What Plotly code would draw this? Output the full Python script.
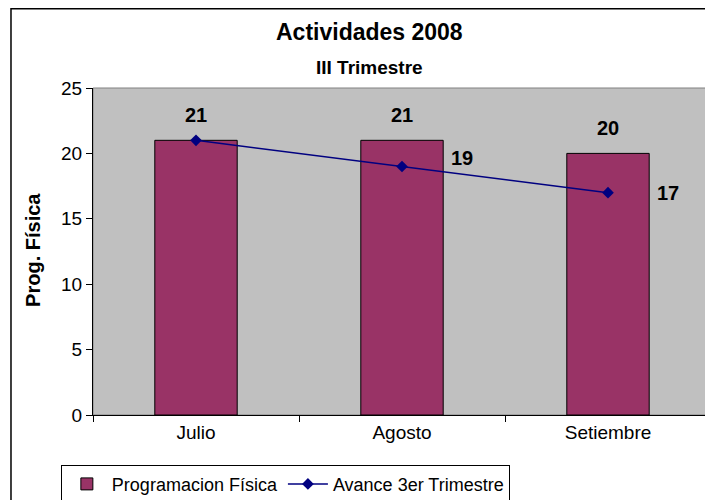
import plotly.graph_objects as go

categories = ["Julio", "Agosto", "Setiembre"]
programacion = [21, 21, 20]
avance = [21, 19, 17]
avance_labels = ["", "19", "17"]
y_ticks = [0, 5, 10, 15, 20, 25]

FONT = "Liberation Sans, Arial, sans-serif"

fig = go.Figure()
fig.add_trace(go.Bar(
    x=categories, y=programacion, name="Programacion Física",
    marker=dict(color="#993366", line=dict(color="black", width=1)),
    width=0.40,
))
fig.add_trace(go.Scatter(
    x=categories, y=avance, name="Avance 3er Trimestre",
    mode="lines+markers",
    line=dict(color="#000080", width=1.5),
    marker=dict(symbol="diamond", size=9, color="#000080"),
))

annotations = []
for c, v in zip(categories, programacion):
    annotations.append(dict(x=c, y=v, xref="x", yref="y", text=f"<b>{v}</b>",
                            showarrow=False, yanchor="bottom", yshift=12,
                            font=dict(family=FONT, size=20, color="black")))
line_yshift = [0, 8, 0]
for c, v, t, ys in zip(categories, avance, avance_labels, line_yshift):
    if t:
        annotations.append(dict(x=c, y=v, xref="x", yref="y", text=f"<b>{t}</b>",
                                showarrow=False, xshift=60, yshift=ys,
                                xanchor="center", yanchor="middle",
                                font=dict(family=FONT, size=20, color="black")))

annotations += [
    dict(x=0.448, y=1.171, xref="paper", yref="paper", text="<b>Actividades 2008</b>",
         xanchor="center", yanchor="middle",
         showarrow=False, font=dict(family=FONT, size=23, color="black")),
    dict(x=0.448, y=1.064, xref="paper", yref="paper", text="<b>III Trimestre</b>",
         xanchor="center", yanchor="middle",
         showarrow=False, font=dict(family=FONT, size=19, color="black")),
    dict(x=-0.097, y=0.505, xref="paper", yref="paper", text="<b>Prog. Física</b>",
         xanchor="center", yanchor="middle",
         textangle=-90, showarrow=False, font=dict(family=FONT, size=20, color="black")),
]

fig.update_layout(
    width=713, height=500,
    margin=dict(l=85, r=10, t=80, b=93, autoexpand=False),
    paper_bgcolor="white", plot_bgcolor="#C0C0C0",
    font=dict(family=FONT, size=19, color="black"),
    showlegend=True,
    legend=dict(orientation="h", x=-0.052, xanchor="left", y=-0.152, yanchor="top",
                bordercolor="black", borderwidth=1, bgcolor="white",
                font=dict(family=FONT, size=18), itemwidth=40,
                tracegroupgap=0),
    annotations=annotations,
    shapes=[
        dict(type="rect", xref="paper", yref="paper", x0=0, x1=1, y0=0, y1=1,
             line=dict(color="#808080", width=1), layer="below"),
        dict(type="rect", xref="paper", yref="paper", x0=-0.1327, x1=1.1, y0=-0.4, y1=1.242,
             line=dict(color="black", width=1.5)),
    ],
)
fig.update_xaxes(type="category", showline=True, linecolor="black", linewidth=1,
                 ticks="outside", tickson="boundaries", ticklen=6, tickcolor="black",
                 showgrid=False, tickfont=dict(size=19), range=[-0.5, 2.5])
fig.update_yaxes(range=[0, 25], tickvals=y_ticks, showline=True, linecolor="black",
                 linewidth=1, ticks="outside", ticklen=6, tickcolor="black",
                 showgrid=False, zeroline=False, tickfont=dict(size=19))

fig.write_html("out.html")
